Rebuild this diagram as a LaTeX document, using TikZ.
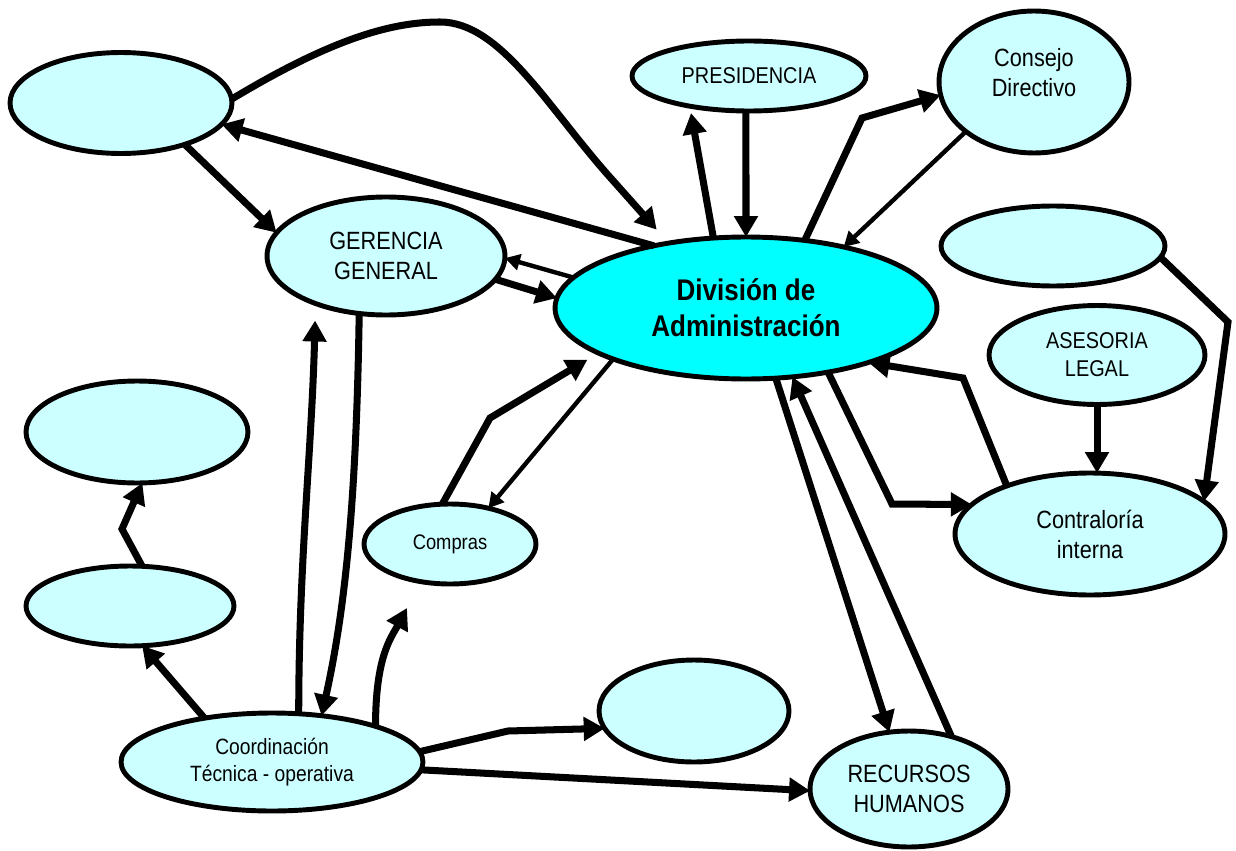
\documentclass[tikz,border=0pt]{standalone}
\usepackage{fontspec}
\setmainfont{Liberation Sans}[FakeStretch=0.87]
\usetikzlibrary{shapes.geometric,arrows.meta}
\definecolor{paleaqua}{HTML}{CCFFFF}
\definecolor{aqua}{HTML}{00FFFF}

\begin{document}
\begin{tikzpicture}[x=0.02cm,y=-0.02cm,
  unit/.style={ellipse,draw,line width=2.8pt,fill=paleaqua,inner sep=0pt,outer sep=0pt,
    align=center,font=\fontsize{14.2}{17}\selectfont},
  flow/.style={line width=4pt,-{Triangle[length=0.42cm,width=0.46cm]}},
  slim/.style={line width=2.5pt,-{Triangle[length=0.3cm,width=0.32cm]}}]
\useasboundingbox (0,0) rectangle (1236,851);
\node[unit,minimum width=4.44cm,minimum height=2.02cm] (blankA) at (121,103) {};
\node[unit,minimum width=4.76cm,minimum height=2.36cm] (gerencia) at (386,256) {GERENCIA\\GENERAL};
\node[unit,fill=aqua,minimum width=7.64cm,minimum height=2.84cm,
  font=\bfseries\fontsize{17}{20.4}\selectfont] (admin) at (746,308) {División de\\Administración};
\node[unit,minimum width=4.68cm,minimum height=1.4cm,font=\fontsize{13}{16}\selectfont] (presi) at (749,76) {PRESIDENCIA};
\node[unit,minimum width=3.8cm,minimum height=2.84cm,
  label={[align=center,font=\fontsize{14.2}{17}\selectfont,yshift=0.18cm]center:Consejo\\Directivo}] (consejo) at (1034,82) {};
\node[unit,minimum width=4.48cm,minimum height=1.6cm] (blankB) at (1053,246) {};
\node[unit,minimum width=4.32cm,minimum height=1.98cm,font=\fontsize{13}{16}\selectfont] (asesoria) at (1097,355) {ASESORIA\\LEGAL};
\node[unit,minimum width=5.4cm,minimum height=2.44cm] (contra) at (1090,534) {Contraloría\\interna};
\node[unit,minimum width=3.44cm,minimum height=1.6cm,font=\fontsize{12}{14}\selectfont] (compras) at (450,544) {Compras};
\node[unit,minimum width=4.44cm,minimum height=2.04cm] (blankC) at (137,432) {};
\node[unit,minimum width=4.16cm,minimum height=1.6cm] (blankD) at (130,606) {};
\node[unit,minimum width=6.04cm,minimum height=1.96cm,font=\fontsize{12.6}{15.3}\selectfont] (coord) at (272,762) {Coordinación\\Técnica - operativa};
\node[unit,minimum width=3.8cm,minimum height=2.04cm] (blankE) at (694,711) {};
\node[unit,minimum width=3.96cm,minimum height=2.32cm] (rrhh) at (909,789) {RECURSOS\\HUMANOS};
\coordinate (tipC) at (407,608);
\draw[flow,shorten >=0.36cm] (blankA.2) .. controls (330,40) and (390,22) .. (440,22)
  .. controls (500,22) and (547,106) .. (608,175) -- (admin.140);
\draw[flow] (admin.146) -- (blankA.-12);
\draw[flow] (blankA.-33) -- (gerencia.168);
\draw[slim] (admin.170) -- (gerencia.-1);
\draw[flow] (gerencia.-12) -- (admin.177);
\draw[flow,shorten >=0.14cm] (admin.115) -- (presi.207);
\draw[flow] (presi.-95) -- (admin.north);
\draw[flow] (admin.49) -- (862,118) -- (consejo.188);
\draw[slim] (consejo.216) -- (admin.32);
\draw[flow] (blankB.-6) -- (1228,322) -- (contra.16);
\draw[flow] (asesoria.south) -- (asesoria.south |- contra.north);
\draw[flow] (contra.150) -- (963,378) -- (admin.-24);
\draw[flow] (admin.-38) -- (892,504) -- (contra.166);
\draw[flow] (admin.-67) -- (rrhh.109);
\draw[flow] (rrhh.51) -- (admin.-56);
\draw[slim] (admin.201) -- (compras.43);
\draw[flow,shorten >=0.26cm] (compras.101) -- (490,418) -- (admin.197);
\draw[flow] (gerencia.245) .. controls +(-3,200) and +(22,-100) .. (coord.43);
\draw[flow,shorten >=0.34cm] (coord.61) .. controls +(0,-150) and +(-4,150) .. (gerencia.214);
\draw[flow] (coord.19) .. controls +(0,-70) and +(-16,30) .. (tipC);
\draw[flow] (coord.147) -- (blankD.-73);
\draw[flow] (blankD.73) -- (122,529) -- (blankC.-84);
\draw[flow] (coord.4) -- (508,731) -- (blankE.191);
\draw[flow] (coord.-3) -- (rrhh.181);
\end{tikzpicture}
\end{document}
